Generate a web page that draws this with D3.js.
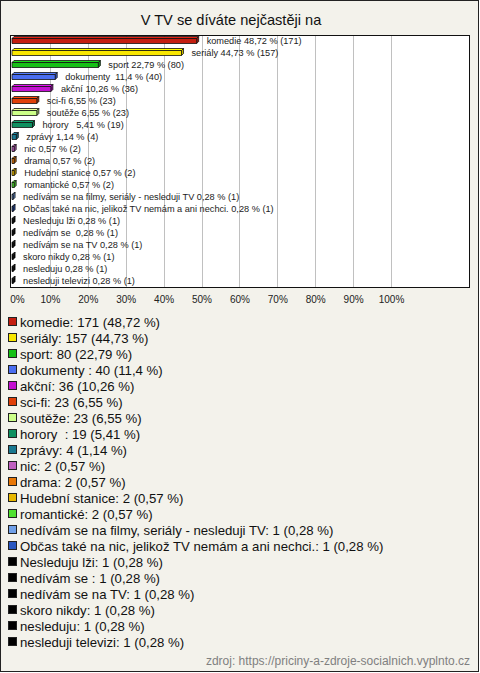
<!DOCTYPE html>
<html><head><meta charset="utf-8">
<script src="https://cdn.jsdelivr.net/npm/d3@7"></script>
<style>
body{margin:0;background:#fff;}
svg text{font-family:"Liberation Sans",Arial,sans-serif;white-space:pre;}
</style></head>
<body>
<svg id="c" width="480" height="673"></svg>
<script>
const title = "V TV se díváte nejčastěji na";
const categories = ["komedie","seriály","sport","dokumenty ","akční","sci-fi","soutěže","horory  ","zprávy","nic","drama","Hudební stanice","romantické","nedívám se na filmy, seriály - nesleduji TV","Občas také na nic, jelikož TV nemám a ani nechci.","Nesleduju lži","nedívám se ","nedívám se na TV","skoro nikdy","nesleduju","nesleduji televizi"];
const counts = [171,157,80,40,36,23,23,19,4,2,2,2,2,1,1,1,1,1,1,1,1];
const percents = [48.72,44.73,22.79,11.4,10.26,6.55,6.55,5.41,1.14,0.57,0.57,0.57,0.57,0.28,0.28,0.28,0.28,0.28,0.28,0.28,0.28];
const colors = ["#c41e10","#f8e600","#16c016","#4a6ef0","#c210d0","#e0400a","#ccff88","#0e9060","#1a7890","#c060c0","#e87808","#e8b800","#50e030","#70a0e8","#2856c0","#000000","#000000","#000000","#000000","#000000","#000000"];
const tickValues = [0,10,20,30,40,50,60,70,80,90,100];
const source = "zdroj: https://priciny-a-zdroje-socialnich.vyplnto.cz";

const fmt = v => String(v).replace(".", ",");
const svg = d3.select("#c");
svg.append("rect").attr("x",0.5).attr("y",0.5).attr("width",478).attr("height",671)
  .attr("fill","#f3f2eb").attr("stroke","#222").attr("stroke-width",1);
svg.append("text").attr("x",231).attr("y",25).attr("text-anchor","middle")
  .attr("font-size",14.6).attr("fill","#111").text(title);

const x = d3.scaleLinear().domain([0,100]).range([12,391]);
const y = d3.scaleBand().domain(categories).range([35,287]);
const box = {x0:10.5, y0:35.5, x1:469.5, y1:287.5};

svg.append("rect").attr("x",box.x0).attr("y",box.y0).attr("width",box.x1-box.x0).attr("height",box.y1-box.y0)
  .attr("fill","#fff");
svg.append("g").selectAll("line").data(tickValues.slice(1)).join("line")
  .attr("x1",d=>Math.round(x(d))+0.5).attr("x2",d=>Math.round(x(d))+0.5)
  .attr("y1",box.y0).attr("y2",box.y1).attr("stroke","#c0c0c0").attr("stroke-width",1);
svg.append("rect").attr("x",box.x0).attr("y",box.y0).attr("width",box.x1-box.x0).attr("height",box.y1-box.y0)
  .attr("fill","none").attr("stroke","#111").attr("stroke-width",1);

const ax = d3.axisBottom(x).tickValues(tickValues).tickFormat(d=>d+"%").tickSize(0).tickPadding(0);
const axg = svg.append("g").attr("transform","translate(0,296)").call(ax);
axg.select(".domain").remove();
axg.selectAll("text").attr("font-size",10).attr("fill","#222").attr("font-family","Liberation Sans, Arial, sans-serif")
  .attr("dx",(d)=>d===0?5:0);

const D = 2;
const bars = svg.append("g");
categories.forEach((c,i)=>{
  const cy = y(c) + y.bandwidth()/2;
  const x0 = x(0), x1 = Math.max(x(percents[i]), x0+1);
  const top = cy-2.5, bot = cy+2.5;
  const col = d3.color(colors[i]);
  const g = bars.append("g").attr("stroke","#111").attr("stroke-width",0.8).attr("stroke-linejoin","round");
  g.append("polygon").attr("points",`${x0},${top} ${x0+D},${top-D} ${x1+D},${top-D} ${x1},${top}`)
    .attr("fill", colors[i]==="#000000" ? "#444" : col.brighter(0.4).formatHex());
  g.append("polygon").attr("points",`${x1},${top} ${x1+D},${top-D} ${x1+D},${bot-D} ${x1},${bot}`)
    .attr("fill", col.darker(0.6).formatHex());
  g.append("rect").attr("x",x0).attr("y",top).attr("width",x1-x0).attr("height",bot-top).attr("fill",colors[i]);
  svg.append("text").attr("x",x1+D+8).attr("y",cy+3).attr("font-size",9.2).attr("fill","#222")
    .text(`${c} ${fmt(percents[i])} % (${counts[i]})`);
});

const ly = d3.scaleBand().domain(categories).range([314,650]);
const leg = svg.append("g");
categories.forEach((c,i)=>{
  const cy = ly(c)+ly.bandwidth()/2;
  leg.append("rect").attr("x",8.5).attr("y",cy-4.5).attr("width",8).attr("height",8)
    .attr("fill",colors[i]).attr("stroke","#222").attr("stroke-width",1);
  leg.append("text").attr("x",20).attr("y",cy+4.5).attr("font-size",13.2).attr("fill","#111")
    .text(`${c}: ${counts[i]} (${fmt(percents[i])} %)`);
});

svg.append("text").attr("x",470).attr("y",665).attr("text-anchor","end").attr("font-size",12)
  .attr("fill","#808080").text(source);
</script>
</body></html>
